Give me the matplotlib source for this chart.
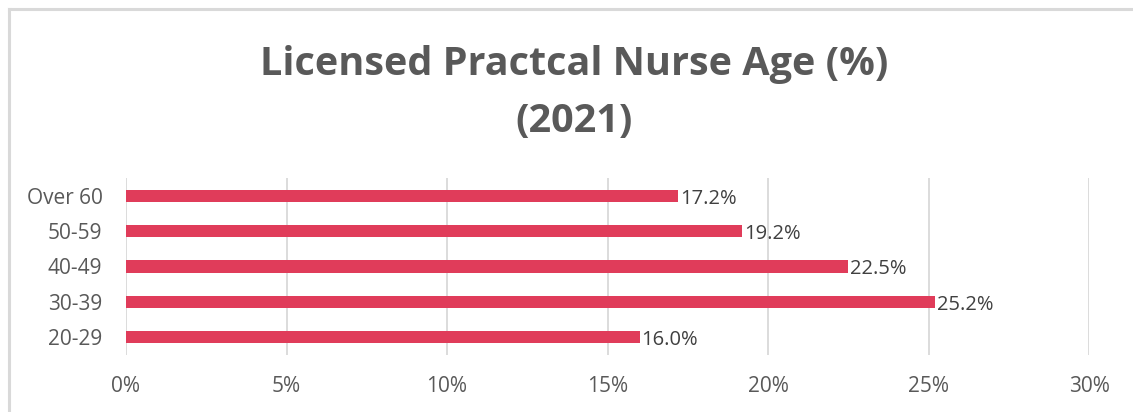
import matplotlib
matplotlib.use("Agg")
import matplotlib.pyplot as plt
from matplotlib.lines import Line2D
from matplotlib.ticker import FuncFormatter

plt.rcParams['font.family'] = ['Open Sans', 'DejaVu Sans']

categories = ["20-29", "30-39", "40-49", "50-59", "Over 60"]
values = [16.0, 25.2, 22.5, 19.2, 17.2]
x_ticks = [0, 5, 10, 15, 20, 25, 30]
title = "Licensed Practcal Nurse Age (%)\n(2021)"

W, H = 1133, 412
fig = plt.figure(figsize=(W / 100, H / 100), dpi=100)
fig.patch.set_facecolor("white")

# light frame along the top and left of the chart area
frame = dict(color="#d9d9d9", linewidth=2.2, transform=fig.transFigure)
fig.lines.append(Line2D([9 / W, 1.0], [1 - 9 / H, 1 - 9 / H], **frame))
fig.lines.append(Line2D([9 / W, 9 / W], [0.0, 1 - 9 / H], **frame))

ax = fig.add_axes([126 / W, 1 - 355 / H, (1089 - 126) / W, 177 / H])
ypos = list(range(len(categories)))
ax.barh(ypos, values, height=0.34, color="#e03c5a", zorder=3)

ax.set_xlim(0, 30)
ax.set_ylim(-0.5, len(categories) - 0.5)
ax.set_xticks(x_ticks)
ax.xaxis.set_major_formatter(FuncFormatter(lambda v, p: f"{v:.0f}%"))
ax.set_yticks(ypos)
ax.set_yticklabels(categories)
ax.tick_params(axis="both", length=0, labelsize=15, labelcolor="#595959")
ax.tick_params(axis="x", pad=15)
ax.tick_params(axis="y", pad=17)
ax.grid(axis="x", color="#d9d9d9", linewidth=1.3, zorder=0)
for s in ax.spines.values():
    s.set_visible(False)

for y, v in zip(ypos, values):
    ax.text(v + 0.05, y - 0.08, f"{v:.1f}%", va="center", ha="left",
            fontsize=14.5, color="#404040", zorder=4)

fig.text(574 / W, 1 - 93 / H, title, ha="center", va="center",
         fontsize=28.5, fontweight="bold", color="#595959", linespacing=1.62)

fig.savefig("out.png", dpi=100)
